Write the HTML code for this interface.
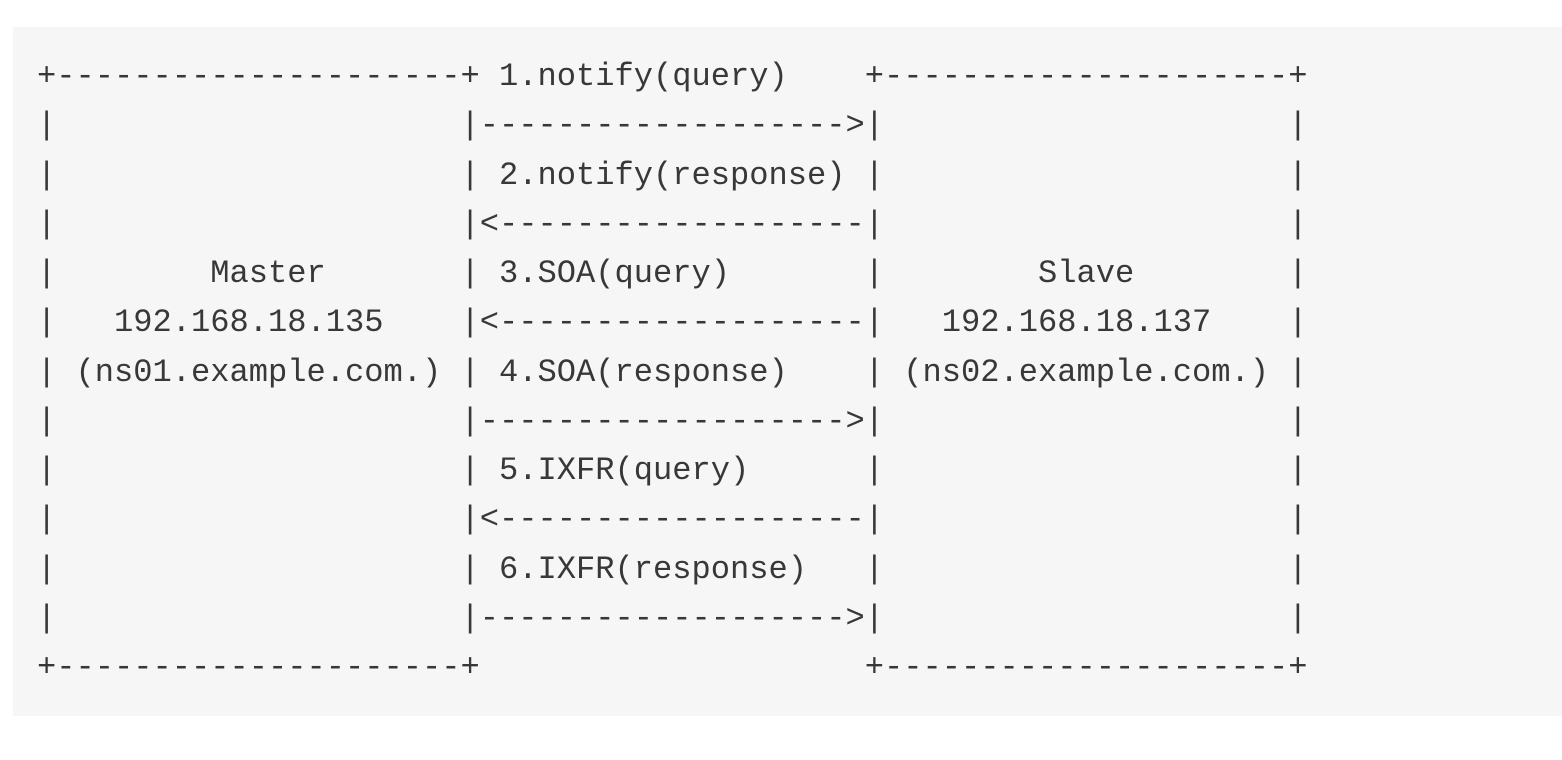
<!DOCTYPE html>
<html><head><meta charset="utf-8"><style>
html,body{margin:0;padding:0;background:#fff;width:1562px;height:760px;overflow:hidden}
.panel{position:absolute;left:13px;top:27px;width:1549px;height:689px;background:#f6f6f6}
pre{position:absolute;left:37px;top:52px;margin:0;font-family:"Liberation Mono",monospace;font-size:32.08px;line-height:49.25px;color:#383838;white-space:pre}
</style></head><body>
<div class="panel"></div>
<pre>+---------------------+ 1.notify(query)    +---------------------+
|                     |------------------->|                     |
|                     | 2.notify(response) |                     |
|                     |&lt;-------------------|                     |
|        Master       | 3.SOA(query)       |        Slave        |
|   192.168.18.135    |&lt;-------------------|   192.168.18.137    |
| (ns01.example.com.) | 4.SOA(response)    | (ns02.example.com.) |
|                     |------------------->|                     |
|                     | 5.IXFR(query)      |                     |
|                     |&lt;-------------------|                     |
|                     | 6.IXFR(response)   |                     |
|                     |------------------->|                     |
+---------------------+                    +---------------------+</pre>
</body></html>
